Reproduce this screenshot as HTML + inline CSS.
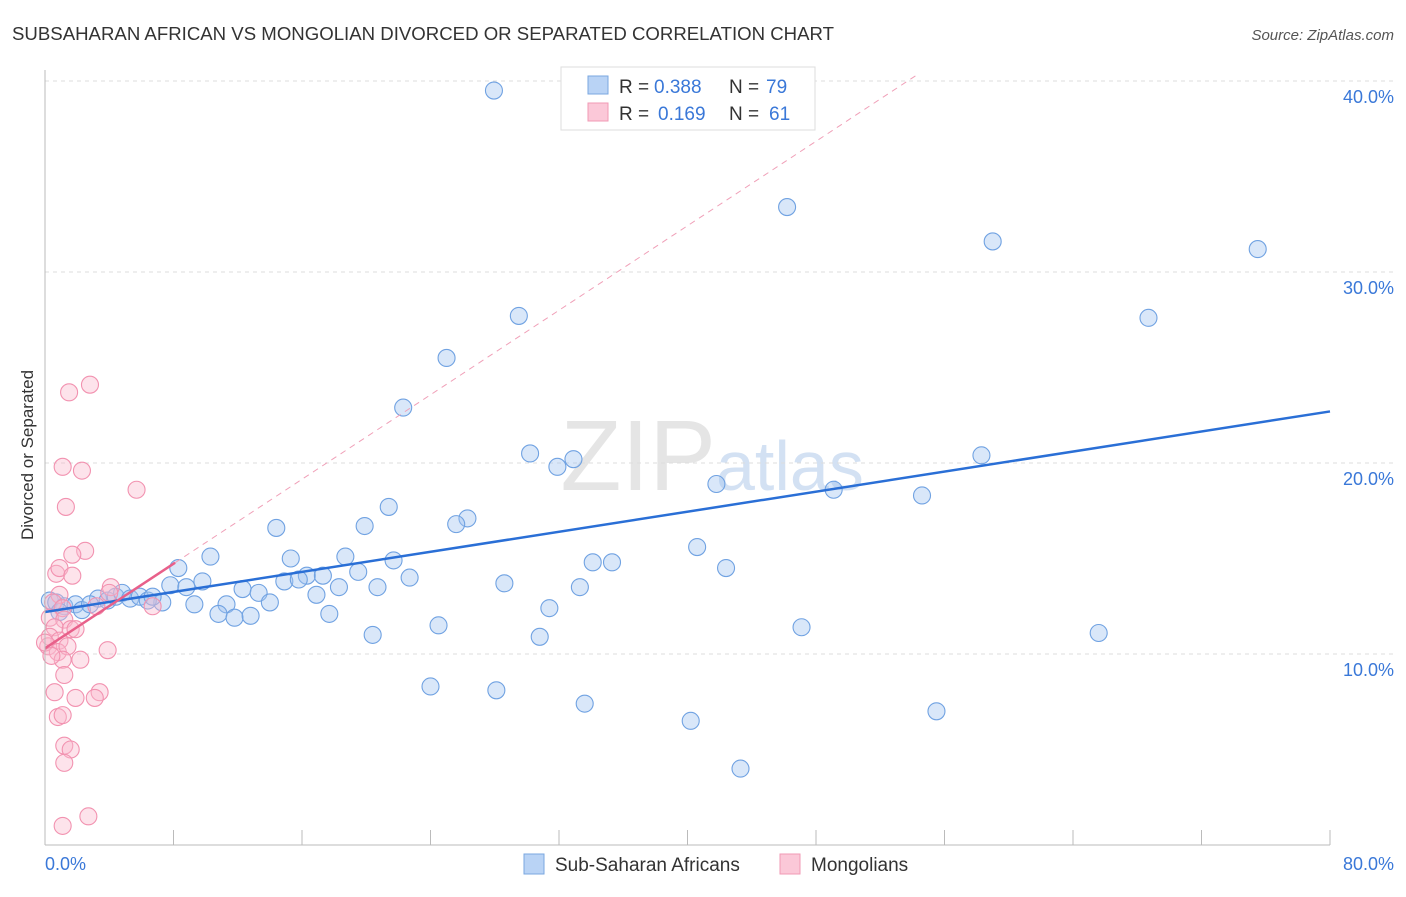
<!DOCTYPE html>
<html><head><meta charset="utf-8"><style>
body{margin:0;background:#fff;font-family:"Liberation Sans",sans-serif}
svg text{font-family:"Liberation Sans",sans-serif}
</style></head><body>
<svg id="chart" width="1406" height="892">
<text x="12" y="40" font-size="18" fill="#333" textLength="822" lengthAdjust="spacingAndGlyphs">SUBSAHARAN AFRICAN VS MONGOLIAN DIVORCED OR SEPARATED CORRELATION CHART</text>
<text x="1394" y="40" font-size="15" fill="#555" text-anchor="end" font-style="italic">Source: ZipAtlas.com</text>
<text transform="translate(33,455) rotate(-90)" font-size="17" fill="#333" text-anchor="middle">Divorced or Separated</text>
<text x="716" y="490" font-size="100" fill="#ccc" opacity="0.5" text-anchor="end" font-family="Liberation Serif">ZIP</text>
<text x="716" y="490" font-size="70" fill="#a9c4e8" opacity="0.5">atlas</text>
<g id="grid"></g><g id="pts"></g><g id="lines"></g>
<line x1="45" y1="70" x2="45" y2="845" stroke="#bbb"/>
<line x1="45" y1="845" x2="1330" y2="845" stroke="#bbb"/>
<g id="xt"></g>
<text x="45" y="870" font-size="18" fill="#3a78d8">0.0%</text>
<text x="1394" y="870" font-size="18" fill="#3a78d8" text-anchor="end">80.0%</text>
<g>
<rect x="561" y="67" width="254" height="63" fill="#fff" stroke="#ddd"/>
<rect x="588" y="76" width="20" height="18" fill="#b9d3f5" stroke="#7aa7e0"/>
<rect x="588" y="103" width="20" height="18" fill="#fbc8d8" stroke="#f09ab5"/>
<text x="619" y="93" font-size="19" fill="#333">R =</text>
<text x="654" y="93" font-size="19" fill="#3a78d8">0.388</text>
<text x="729" y="93" font-size="19" fill="#333">N =</text>
<text x="766" y="93" font-size="19" fill="#3a78d8">79</text>
<text x="619" y="120" font-size="19" fill="#333">R =</text>
<text x="658" y="120" font-size="19" fill="#3a78d8">0.169</text>
<text x="729" y="120" font-size="19" fill="#333">N =</text>
<text x="769" y="120" font-size="19" fill="#3a78d8">61</text>
</g>
<g>
<rect x="524" y="854" width="20" height="20" fill="#b9d3f5" stroke="#7aa7e0"/>
<text x="555" y="871" font-size="19" fill="#333">Sub-Saharan Africans</text>
<rect x="780" y="854" width="20" height="20" fill="#fbc8d8" stroke="#f09ab5"/>
<text x="811" y="871" font-size="19" fill="#333">Mongolians</text>
</g>
</svg>
<script>
const yTicks=[10,20,30,40];
const yTickLabels=["10.0%","20.0%","30.0%","40.0%"];
const xTickVals=[8,16,24,32,40,48,56,64,72,80];
const blueX=[27.95,46.2,59.0,75.5,29.5,68.7,25.0,22.3,30.2,31.9,32.9,58.3,41.8,49.1,54.6,21.4,26.3,25.6,19.9,14.4,40.6,10.3,15.3,18.7,21.7,34.1,35.3,8.3,42.4,19.5,16.3,17.3,22.7,9.8,14.9,15.8,7.8,8.8,28.6,18.3,20.7,33.3,12.3,13.3,16.9,14.0,11.3,9.3,7.3,31.4,10.8,11.8,12.8,17.7,24.5,47.1,65.6,20.4,30.8,24.0,28.1,33.6,40.2,55.5,43.3,0.3,0.7,1.2,1.9,2.3,3.3,3.9,4.4,4.8,5.3,5.9,6.4,6.7,2.8,0.9];
const blueY=[39.5,33.4,31.6,31.2,27.7,27.6,25.5,22.9,20.5,19.8,20.2,20.4,18.9,18.6,18.3,17.7,17.1,16.8,16.7,16.6,15.6,15.1,15.0,15.1,14.9,14.8,14.8,14.5,14.5,14.3,14.1,14.1,14.0,13.8,13.8,13.9,13.6,13.5,13.7,13.5,13.5,13.5,13.4,13.2,13.1,12.7,12.6,12.6,12.7,12.4,12.1,11.9,12.0,12.1,11.5,11.4,11.1,11.0,10.9,8.3,8.1,7.4,6.5,7.0,4.0,12.8,12.7,12.5,12.6,12.3,12.9,12.8,13.0,13.2,12.9,13.0,12.8,13.0,12.6,12.2];
const pinkX=[2.8,1.5,1.1,2.3,5.7,1.3,2.5,1.7,0.7,0.9,1.7,4.1,4.0,0.9,0.5,1.1,3.2,6.7,0.3,1.2,0.6,1.6,0.3,0.9,0.2,0.8,1.4,3.9,1.1,2.2,1.2,0.6,1.9,3.4,3.1,0.8,1.1,1.2,1.6,1.2,1.1,2.7,1.9,0.0,0.4];
const pinkY=[24.1,23.7,19.8,19.6,18.6,17.7,15.4,15.2,14.2,14.5,14.1,13.5,13.2,13.1,12.7,12.4,12.5,12.5,11.9,11.8,11.4,11.3,10.9,10.7,10.4,10.1,10.4,10.2,9.7,9.7,8.9,8.0,7.7,8.0,7.7,6.7,6.8,5.2,5.0,4.3,1.0,1.5,11.3,10.6,9.9];
const blueTrend=[12.2,22.7];
const pinkTrend=[10.3,0.553];
const X=v=>45+v/80*1285, Y=v=>845-v*19.1;
const NS="http://www.w3.org/2000/svg";
function mk(p,t,a){const e=document.createElementNS(NS,t);for(const k in a)e.setAttribute(k,a[k]);document.getElementById(p).appendChild(e);return e;}
yTicks.forEach((t,i)=>{
 const l=mk('grid','line',{x1:45,x2:1394,y1:Y(t),y2:Y(t),stroke:'#ddd','stroke-dasharray':'4,4'});
 
 
 const tx=mk('grid','text',{x:1394,y:Y(t)+22,'font-size':18,fill:'#3a78d8','text-anchor':'end'});
 tx.textContent=yTickLabels[i];
 
 
});
xTickVals.forEach(v=>{
 const l=mk('xt','line',{x1:X(v),x2:X(v),y1:830,y2:845,stroke:'#bbb'});
 
 
});
blueX.forEach((v,i)=>{
 const c=mk('pts','circle',{cx:X(v),cy:Y(blueY[i]),r:8.5,fill:'rgba(160,195,240,0.4)',stroke:'#70a2e2','stroke-width':1.1});
 
 
});
pinkX.forEach((v,i)=>{
 const c=mk('pts','circle',{cx:X(v),cy:Y(pinkY[i]),r:8.5,fill:'rgba(250,185,205,0.4)',stroke:'#f292b0','stroke-width':1.1});
 
 
});
let l=mk('lines','line',{x1:X(0),y1:Y(blueTrend[0]),x2:X(80),y2:Y(blueTrend[1]),stroke:'#2a6fd6','stroke-width':2.5});


l=mk('lines','line',{x1:X(8.1),y1:Y(pinkTrend[0]+pinkTrend[1]*8.1),x2:X(54.2),y2:Y(pinkTrend[0]+pinkTrend[1]*54.2),stroke:'#f0a0b8','stroke-width':1,'stroke-dasharray':'6,5'});


l=mk('lines','line',{x1:X(0),y1:Y(pinkTrend[0]),x2:X(8.1),y2:Y(pinkTrend[0]+pinkTrend[1]*8.1),stroke:'#e8608a','stroke-width':2.5});


</script>
</body></html>
